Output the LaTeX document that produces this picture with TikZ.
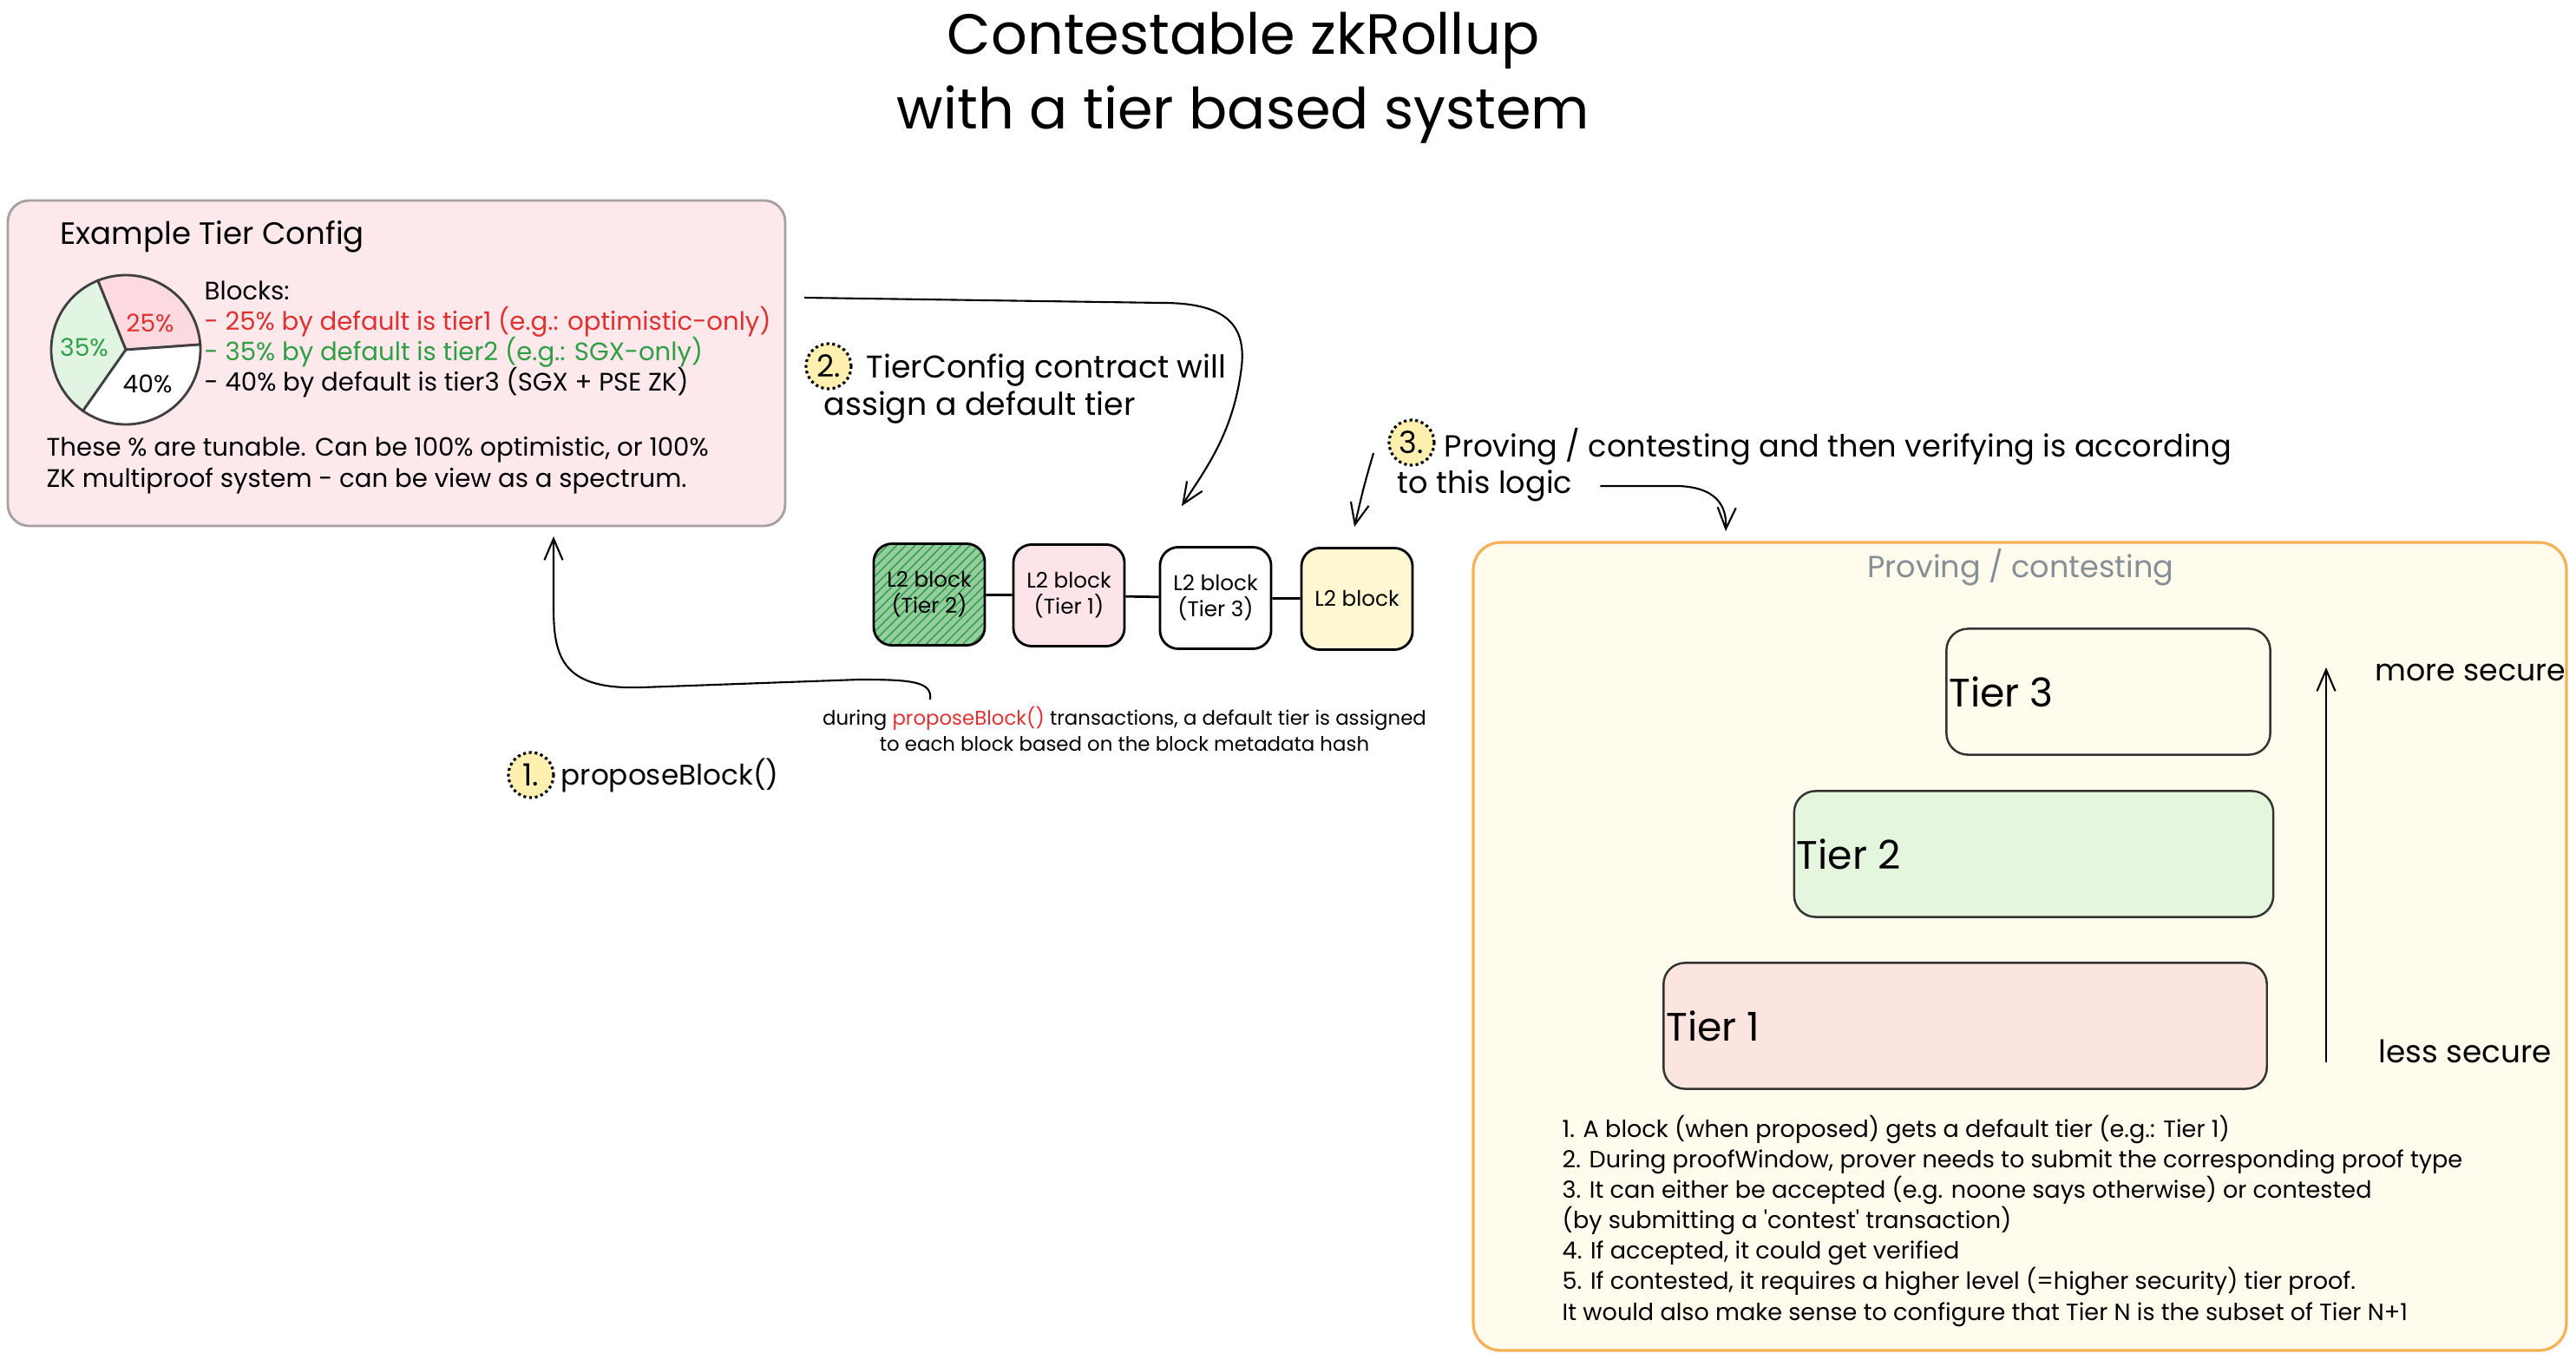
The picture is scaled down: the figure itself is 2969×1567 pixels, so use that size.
\documentclass[tikz,border=0pt]{standalone}
\usepackage{fontspec}
\setmainfont{Poppins}
\usetikzlibrary{arrows.meta,fit,patterns}

\definecolor{inkred}{RGB}{224,49,49}
\definecolor{inkgreen}{RGB}{47,158,68}
\definecolor{inkgray}{RGB}{134,142,150}
\definecolor{pinkfill}{RGB}{253,232,236}
\definecolor{pinkline}{RGB}{165,160,162}
\definecolor{creamfill}{RGB}{255,251,237}
\definecolor{orangeline}{RGB}{247,176,84}
\definecolor{tieronefill}{RGB}{252,229,222}
\definecolor{tiertwofill}{RGB}{228,246,222}
\definecolor{greenblk}{RGB}{150,205,160}
\definecolor{pinkblk}{RGB}{253,228,232}
\definecolor{yellowblk}{RGB}{255,246,210}
\definecolor{stepfill}{RGB}{255,240,175}
\definecolor{pieRed}{RGB}{253,218,224}
\definecolor{pieGreen}{RGB}{226,244,226}

\tikzset{
  panel/.style={draw=pinkline, fill=pinkfill, rounded corners=7pt, inner sep=0pt, line width=0.8pt},
  l2box/.style={draw, rounded corners=6pt, minimum width=1.28cm, minimum height=1.17cm, inner sep=0pt, line width=0.8pt, align=center, font=\fontsize{7}{8.5}\selectfont},
  tierbox/.style={draw=black!80, rounded corners=7pt, minimum height=1.45cm, inner sep=0pt, line width=0.7pt},
  tierlabel/.style={anchor=west, inner sep=1pt, font=\fontsize{13}{15}\selectfont},
  stepmark/.style={circle, draw, densely dotted, line width=0.9pt, fill=stepfill, minimum size=0.52cm, inner sep=0pt, font=\fontsize{10}{12}\selectfont},
  bigtxt/.style={anchor=west, inner sep=0pt, font=\fontsize{10}{12}\selectfont},
  smalltxt/.style={inner sep=0pt, align=left, font=\fontsize{7.7}{10}\selectfont},
  arr/.style={-{Straight Barb[length=7pt,width=6pt]}, line width=0.6pt},
}

\begin{document}
\begin{tikzpicture}[x=0.01cm, y=-0.01cm]
%%%%% START %%%%%
\useasboundingbox (0,0) rectangle (2969,1567);

\node[align=center, font=\fontsize{18.6}{24.5}\selectfont] (title) at (1433,90) {Contestable zkRollup\\with a tier based system};

% tier config panel
\node[panel, fit={(9,231) (905,606)}] (config) {};
\node[anchor=west, inner sep=0pt, font=\fontsize{10.1}{12}\selectfont] (cfgtitle) at (69,273) {Example Tier Config};

\begin{scope}[shift={(145,403)}, y=0.01cm, line width=0.8pt, draw=black!75]
  \filldraw[fill=pieRed] (0,0) -- (4:86) arc (4:112:86) -- cycle;
  \filldraw[fill=pieGreen] (0,0) -- (112:86) arc (112:235:86) -- cycle;
  \filldraw[fill=white] (0,0) -- (235:86) arc (235:364:86) -- cycle;
\end{scope}
\node[inner sep=0pt, text=inkred, font=\fontsize{8}{10}\selectfont] (pct1) at (173,372) {25\%};
\node[inner sep=0pt, text=inkgreen, font=\fontsize{8}{10}\selectfont] (pct2) at (97,400) {35\%};
\node[inner sep=0pt, font=\fontsize{8}{10}\selectfont] (pct3) at (170,442) {40\%};

\node[smalltxt, anchor=north west, font=\fontsize{8.3}{10}\selectfont] (blocks) at (235,323) {Blocks:\\
  \textcolor{inkred}{- 25\% by default is tier1 (e.g.: optimistic-only)}\\
  \textcolor{inkgreen}{- 35\% by default is tier2 (e.g.: SGX-only)}\\
  - 40\% by default is tier3 (SGX + PSE ZK)};
\node[smalltxt, anchor=north west, font=\fontsize{8.3}{10}\selectfont] (tunable) at (53,503) {These \% are tunable. Can be 100\% optimistic, or 100\%\\ZK multiproof system - can be view as a spectrum.};

% step 2
\node[stepmark] (c2) at (955,422) {2.};
\node[bigtxt, font=\fontsize{10.3}{12}\selectfont] (cfgtxt1) at (998,427) {TierConfig contract will};
\node[bigtxt, font=\fontsize{10.3}{12}\selectfont] (cfgtxt2) at (949,470) {assign a default tier};

% L2 blocks
\node[l2box, preaction={fill=greenblk}, pattern=north east lines, pattern color=inkgreen] (blkA) at (1071,685) {L2 block\\(Tier 2)};
\node[l2box, fill=pinkblk] (blkB) at (1232,686) {L2 block\\(Tier 1)};
\node[l2box, fill=white] (blkC) at (1401,689) {L2 block\\(Tier 3)};
\node[l2box, fill=yellowblk] (blkD) at (1564,690) {L2 block};
\draw[line width=0.8pt] (blkA) -- (blkB);
\draw[line width=0.8pt] (blkB) -- (blkC);
\draw[line width=0.8pt] (blkC) -- (blkD);

\node[align=center, inner sep=0pt, font=\fontsize{6.5}{8.5}\selectfont] (during) at (1296,840) {during \textcolor{inkred}{proposeBlock()} transactions, a default tier is assigned\\to each block based on the block metadata hash};

% step 1
\node[stepmark] (c1) at (612,893) {1.};
\node[bigtxt, font=\fontsize{9.3}{12}\selectfont] (propose) at (646,893) {proposeBlock()};

% step 3
\node[stepmark] (c3) at (1627,510) {3.};
\node[bigtxt] (logic1) at (1664,515) {Proving / contesting and then verifying is according};
\node[bigtxt] (logic) at (1610,560) {to this logic};

% proving / contesting panel
\node[fit={(1698,625) (2958,1556)}, draw=orangeline, fill=creamfill, rounded corners=9pt, inner sep=0pt, line width=0.9pt] (proving) {};
\node[text=inkgray, inner sep=0pt, font=\fontsize{10}{12}\selectfont] (provtitle) at (2329,654) {Proving / contesting};

\node[tierbox, minimum width=3.73cm] (tier3) at (2430,797) {};
\node[tierbox, minimum width=5.52cm, fill=tiertwofill] (tier2) at (2344,984) {};
\node[tierbox, minimum width=6.95cm, fill=tieronefill] (tier1) at (2265,1182) {};
\node[tierlabel] (lbl3) at (tier3.west) {Tier 3};
\node[tierlabel] (lbl2) at (tier2.west) {Tier 2};
\node[tierlabel] (lbl1) at (tier1.west) {Tier 1};

\coordinate (low) at (2681,1224);
\coordinate (high) at (2681,769);
\draw[arr] (low) -- (high);
\node[anchor=west, inner sep=0pt, font=\fontsize{9.9}{12}\selectfont] (more) at (2737,775) {more secure};
\node[anchor=west, inner sep=0pt, font=\fontsize{10.2}{12}\selectfont] (less) at (2741,1211) {less secure};

\node[smalltxt, anchor=north west] (rules) at (1800,1284) {1. A block (when proposed) gets a default tier (e.g.: Tier 1)\\
  2. During proofWindow, prover needs to submit the corresponding proof type\\
  3. It can either be accepted (e.g. noone says otherwise) or contested\\
  (by submitting a \textquotesingle contest\textquotesingle\ transaction)\\
  4. If accepted, it could get verified\\
  5. If contested, it requires a higher level (=higher security) tier proof.\\
  It would also make sense to configure that Tier N is the subset of Tier N+1};

% arrows
\coordinate (out2) at (927,343);
\coordinate (tip2) at (1362,583);
\draw[arr] (out2) -- (1340,349) .. controls (1420,349) and (1438,380) .. (1430,430) .. controls (1420,500) and (1390,540) .. (tip2);

\coordinate (out1) at (1072,806);
\coordinate (tip1) at (638,618);
\draw[arr] (out1) .. controls (1075,785) and (1050,783) .. (990,783) -- (740,792) .. controls (650,795) and (638,760) .. (638,700) -- (tip1);

\coordinate (out3) at (1583,522);
\coordinate (tip3) at (1561,607);
\draw[arr] (out3) .. controls (1572,560) .. (tip3);

\coordinate (tip4) at (1989,612);
\draw[arr] ([xshift=9pt]logic.east) -- (1935,560) .. controls (1985,562) and (1990,590) .. (tip4);
%%%%% END %%%%%
\end{tikzpicture}
\end{document}
